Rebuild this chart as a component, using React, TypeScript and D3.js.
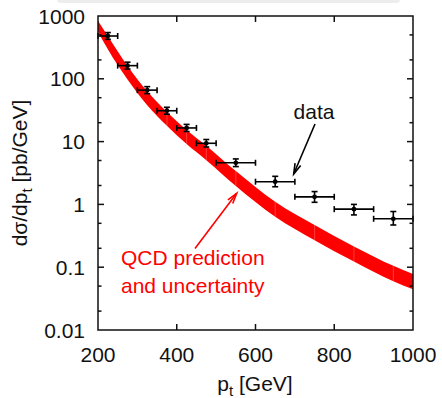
import React from "react";
import * as d3 from "d3";

// ---- data ----
const BIN_LO = [200, 250, 300, 350, 400, 450, 500, 600, 700, 800, 900];
const BIN_HI = [250, 300, 350, 400, 450, 500, 600, 700, 800, 900, 1000];
const BIN_CENTER = [225, 275, 325, 375, 425, 475, 550, 650, 750, 850, 950];
const DATA_VAL = [480, 162, 66, 31, 16.5, 9.4, 4.6, 2.3, 1.32, 0.84, 0.59];
const DATA_ERR_LO = [425, 143, 58, 27.3, 14.5, 8.2, 4.0, 1.91, 1.08, 0.68, 0.47];
const DATA_ERR_HI = [545, 184, 75, 35.2, 18.8, 10.8, 5.3, 2.8, 1.6, 1.0, 0.77];

const BAND_PT = [200, 225, 275, 325, 375, 425, 475, 550, 650, 750, 850, 950, 1000];
const BAND_HI = [841, 479, 160, 63.1, 29.5, 15.3, 8.61, 3.39, 1.1, 0.468, 0.214, 0.105, 0.078];
const BAND_LO = [569, 295, 97.7, 38.0, 17.8, 9.12, 5.07, 1.97, 0.638, 0.269, 0.123, 0.0596, 0.0444];

const X_TICKS = [200, 400, 600, 800, 1000];
const Y_TICKS = [0.01, 0.1, 1, 10, 100, 1000];
const Y_TICK_LABELS = ["0.01", "0.1", "1", "10", "100", "1000"];
const Y_MINOR = [0.02, 0.05, 0.2, 0.5, 2, 5, 20, 50, 200, 500];

const FONT = "'Liberation Sans', Arial, Helvetica, sans-serif";

export default function App() {
  const W = 442, H = 398;
  const L = 98, R = 413, T = 16, B = 330;
  const x = d3.scaleLinear().domain([200, 1000]).range([L, R]);
  const y = d3.scaleLog().domain([0.01, 1000]).range([B, T]);

  const bandIdx = BAND_PT.map((_, i) => i);
  const area = d3
    .area<number>()
    .x((i) => x(BAND_PT[i]))
    .y0((i) => y(BAND_LO[i]))
    .y1((i) => y(BAND_HI[i]))
    .curve(d3.curveMonotoneX);
  const bandPath = area(bandIdx) || "";

  const fs = 21;
  const cap = 3;

  const arrow = (x1: number, y1: number, x2: number, y2: number, color: string) => {
    const ang = Math.atan2(y2 - y1, x2 - x1);
    const len = 11;
    const spread = (16 * Math.PI) / 180;
    const ax = x2 - len * Math.cos(ang - spread);
    const ay = y2 - len * Math.sin(ang - spread);
    const bx = x2 - len * Math.cos(ang + spread);
    const by = y2 - len * Math.sin(ang + spread);
    return (
      <g stroke={color} strokeWidth={1.6} fill="none">
        <line x1={x1} y1={y1} x2={x2} y2={y2} />
        <polyline points={`${ax},${ay} ${x2},${y2} ${bx},${by}`} />
      </g>
    );
  };

  return (
    <svg
      width={W}
      height={H}
      style={{ position: "absolute", left: 0, top: 0, background: "#fff" }}
      fontFamily={FONT}
    >
      <rect x={57} y={-4} width={343} height={7} rx={4} fill="#ededed" />
      <defs>
        <clipPath id="bandclip">
          <path d={bandPath} />
        </clipPath>
      </defs>

      {/* prediction band */}
      <path d={bandPath} fill="#ff0000" stroke="none" />
      <g clipPath="url(#bandclip)">
        {BIN_CENTER.slice(3).map((c, i) => (
          <line key={i} x1={x(c)} x2={x(c)} y1={T} y2={B} stroke="#fff" strokeOpacity={0.3} strokeWidth={0.8} />
        ))}
      </g>

      {/* data points */}
      <g stroke="#000" strokeWidth={1.6} fill="#000">
        {DATA_VAL.map((v, i) => {
          const cx = x(BIN_CENTER[i]);
          const cy = y(v);
          const xl = x(BIN_LO[i]);
          const xr = x(BIN_HI[i]);
          const yt = y(DATA_ERR_HI[i]);
          const yb = y(DATA_ERR_LO[i]);
          return (
            <g key={i}>
              <line x1={xl} x2={xr} y1={cy} y2={cy} />
              <line x1={xl} x2={xl} y1={cy - cap} y2={cy + cap} />
              <line x1={xr} x2={xr} y1={cy - cap} y2={cy + cap} />
              <line x1={cx} x2={cx} y1={yt} y2={yb} />
              <line x1={cx - cap} x2={cx + cap} y1={yt} y2={yt} />
              <line x1={cx - cap} x2={cx + cap} y1={yb} y2={yb} />
              <circle cx={cx} cy={cy} r={2.4} stroke="none" />
            </g>
          );
        })}
      </g>

      {/* frame and ticks */}
      <g stroke="#111" strokeWidth={1.5} fill="none">
        <rect x={L} y={T} width={R - L} height={B - T} />
        {X_TICKS.slice(1, -1).map((t) => (
          <g key={t}>
            <line x1={x(t)} x2={x(t)} y1={B} y2={B - 6} />
            <line x1={x(t)} x2={x(t)} y1={T} y2={T + 6} />
          </g>
        ))}
        {Y_TICKS.slice(1, -1).map((t) => (
          <g key={t}>
            <line x1={L} x2={L + 6} y1={y(t)} y2={y(t)} />
            <line x1={R} x2={R - 6} y1={y(t)} y2={y(t)} />
          </g>
        ))}
        {Y_MINOR.map((t) => (
          <g key={t}>
            <line x1={L} x2={L + 3.5} y1={y(t)} y2={y(t)} />
            <line x1={R} x2={R - 3.5} y1={y(t)} y2={y(t)} />
          </g>
        ))}
      </g>

      {/* tick labels */}
      <g fontSize={fs} fill="#111">
        {X_TICKS.map((t) => (
          <text key={t} x={x(t)} y={361.5} textAnchor="middle">
            {t}
          </text>
        ))}
        {Y_TICKS.map((t, i) => (
          <text key={t} x={85} y={y(t) + 7.5} textAnchor="end">
            {Y_TICK_LABELS[i]}
          </text>
        ))}
      </g>

      {/* axis titles */}
      <text x={255} y={391} textAnchor="middle" fontSize={fs} fill="#111">
        p<tspan fontSize={15} dy={5}>t</tspan>
        <tspan dy={-5}> [GeV]</tspan>
      </text>
      <text
        transform={`translate(27,173) rotate(-90)`}
        textAnchor="middle"
        fontSize={fs}
        fill="#111"
      >
        dσ/dp<tspan fontSize={15} dy={5}>t</tspan>
        <tspan dy={-5}> [pb/GeV]</tspan>
      </text>

      {/* annotations */}
      <text x={314} y={119} textAnchor="middle" fontSize={fs} fill="#111">
        data
      </text>
      {arrow(315, 124, 293.7, 174, "#000")}

      <text x={121} y={265} fontSize={fs} fill="#ff0000">
        QCD prediction
      </text>
      <text x={121} y={293} fontSize={fs} fill="#ff0000">
        and uncertainty
      </text>
      {arrow(195, 248.5, 236.7, 193.3, "#ff0000")}
    </svg>
  );
}
